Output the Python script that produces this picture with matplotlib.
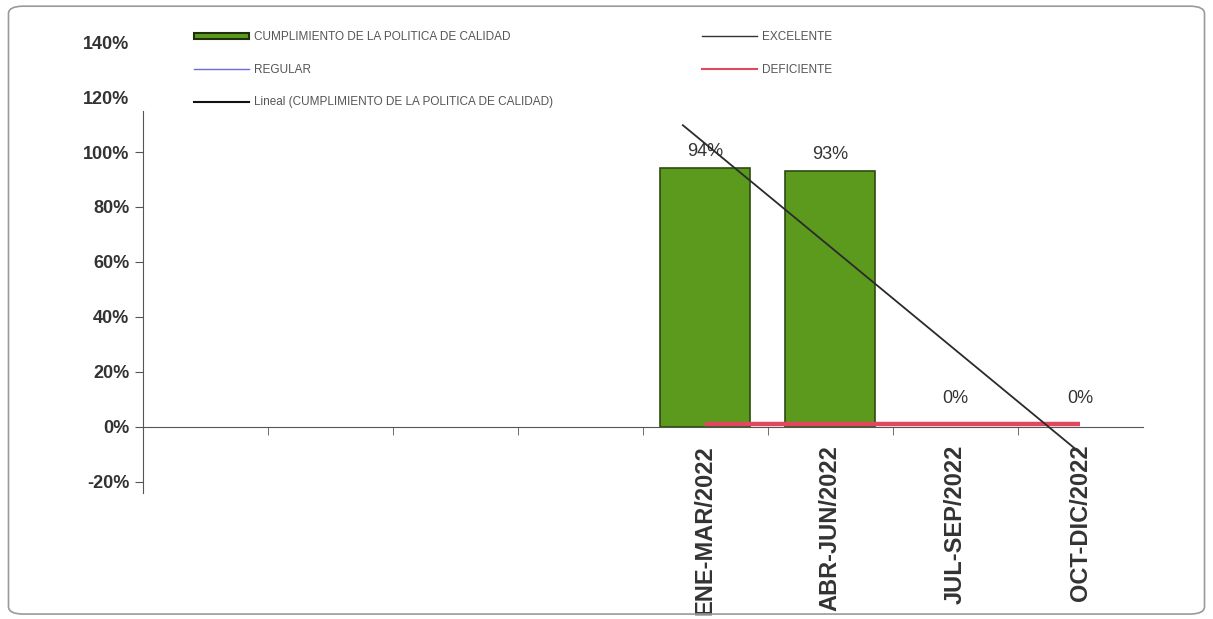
import numpy as np
import matplotlib.pyplot as plt
from matplotlib.lines import Line2D
from matplotlib.patches import FancyBboxPatch, Patch

# quarters (first four slots of the category axis are empty)
categories = ['', '', '', '', 'ENE-MAR/2022', 'ABR-JUN/2022', 'JUL-SEP/2022', 'OCT-DIC/2022']
cumplimiento = [np.nan, np.nan, np.nan, np.nan, 94, 93, 0, 0]
deficiente = [np.nan, np.nan, np.nan, np.nan, 1, 1, 1, 1]
yticks = [-20, 0, 20, 40, 60, 80, 100, 120, 140]

GREEN = '#5c9a1e'
RED = '#e0485e'
TXT = '#333333'

plt.rcParams['font.family'] = ['Liberation Sans', 'DejaVu Sans']

fig = plt.figure(figsize=(12.13, 6.19), dpi=100)
fig.patch.set_facecolor('white')
fig.patches.append(FancyBboxPatch((0.007, 0.008), 0.986, 0.982, boxstyle='round,pad=0,rounding_size=0.012',
                                  transform=fig.transFigure, fill=False, edgecolor='#9a9a9a', lw=1.2))

ax = fig.add_axes([0.118, 0.204, 0.824, 0.728])
x = np.arange(len(categories))
y = np.array(cumplimiento, dtype=float)

# spine position first: moving it resets the tick objects
ax.spines['bottom'].set_position(('data', 0))
ax.spines['bottom'].set_color('#555555')
ax.spines['left'].set_color('#555555')
for s in ('top', 'right'):
    ax.spines[s].set_visible(False)

edge_w = [1.2 if v > 0 else 0 for v in np.nan_to_num(y)]
ax.bar(x, y, width=0.72, color=GREEN, edgecolor='#2f4a12', linewidth=edge_w, zorder=2)
ax.plot(x, deficiente, color=RED, lw=3.2, solid_capstyle='butt', zorder=3)

# linear trend over the filled quarters
ok = ~np.isnan(y)
slope, icpt = np.polyfit(x[ok], y[ok], 1)
tx = np.array([x[ok][0] - 0.18, x[ok][-1] - 0.05])
ax.plot(tx, slope * tx + icpt, color='#2a2a2a', lw=1.3, zorder=4)

for xi, v in zip(x[ok], y[ok]):
    off = 6 if v > 0 else 14
    ax.annotate(f'{v:.0f}%', (xi, v), xytext=(0, off), textcoords='offset points',
                ha='center', va='bottom', fontsize=13, color=TXT)

ax.set_xlim(-0.5, len(categories) - 0.5)
ax.set_ylim(-24, 140)
ax.spines['left'].set_bounds(-24, 115)
ax.set_yticks(yticks)
ax.set_yticklabels([f'{t}%' for t in yticks], fontsize=13, fontweight='bold', color=TXT)
for tk in ax.yaxis.get_major_ticks()[-2:]:
    tk.tick1line.set_visible(False)

# labels on category centres, tick marks on category boundaries
ax.set_xticks(x)
ax.set_xticklabels(categories, rotation=90, fontsize=17, fontweight='bold', color=TXT)
ax.set_xticks(np.arange(len(categories) - 1) + 0.5, minor=True)
ax.tick_params(axis='x', which='major', length=0, pad=13)
ax.tick_params(axis='x', which='minor', direction='out', length=6, color='#555555')
ax.tick_params(axis='y', direction='out', length=6, color='#555555', pad=4)

handles = [
    Patch(facecolor=GREEN, edgecolor='#1f2f0a', lw=1.5),
    Line2D([], [], color='#6a6ad8', lw=1),
    Line2D([], [], color='#111111', lw=1.5),
    Line2D([], [], color='#333333', lw=1),
    Line2D([], [], color=RED, lw=1.5),
]
labels = [
    'CUMPLIMIENTO DE LA POLITICA DE CALIDAD',
    'REGULAR',
    'Lineal (CUMPLIMIENTO DE LA POLITICA DE CALIDAD)',
    'EXCELENTE',
    'DEFICIENTE',
]
leg = fig.legend(handles, labels, ncol=2, loc='upper left', bbox_to_anchor=(0.152, 0.965),
                 prop={'size': 8.5}, frameon=True, facecolor='white',
                 edgecolor='white', framealpha=1,
                 handlelength=4.7, handleheight=0.5, handletextpad=0.4, labelspacing=1.75,
                 columnspacing=12.6, borderpad=0.3)
for t in leg.get_texts():
    t.set_color('#555555')

fig.savefig('out.png', dpi=100)
